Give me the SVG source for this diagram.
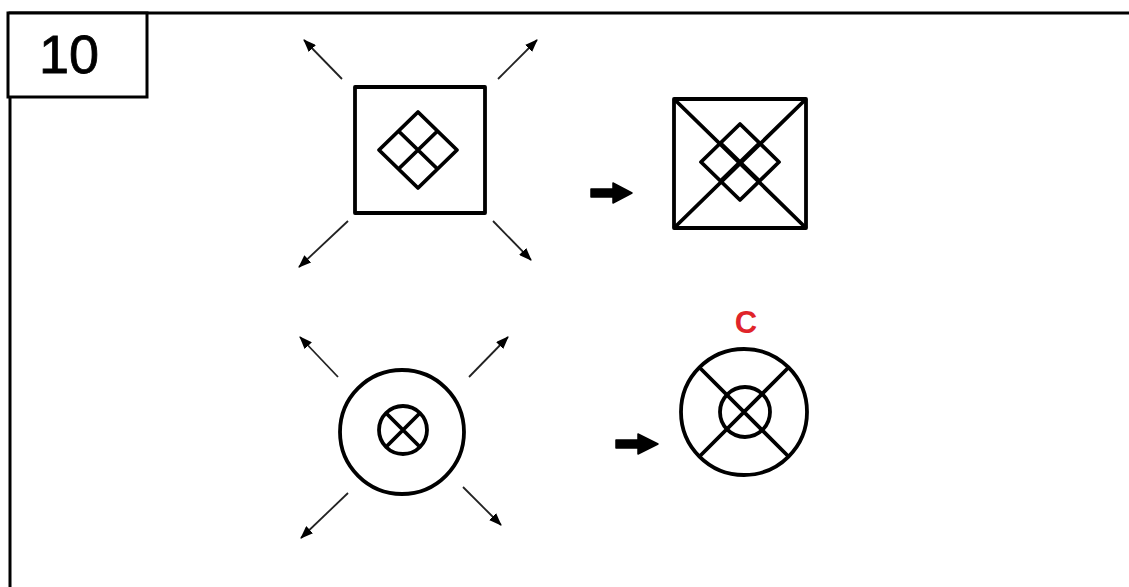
<svg xmlns="http://www.w3.org/2000/svg" width="1129" height="587" viewBox="0 0 1129 587">
<style>
.thick{fill:none;stroke:#000;stroke-width:3.8;stroke-linejoin:round}
.thin{fill:none;stroke:#222;stroke-width:1.8}
.block{fill:#000;stroke:#000;stroke-width:1.5;stroke-linejoin:round}
</style>
<defs>
<marker id="ah" markerWidth="13" markerHeight="10" refX="12" refY="5" orient="auto" markerUnits="userSpaceOnUse">
<path d="M0,0 L13,5 L0,10 Z" fill="#000"/>
</marker>
</defs>
<rect width="1129" height="587" fill="#fff"/>
<g id="frame">
<path d="M10,587 L10,13 L1129,13" fill="none" stroke="#000" stroke-width="3"/>
</g>
<g id="label">
<rect x="8" y="13" width="139" height="84" fill="#fff" stroke="#000" stroke-width="3"/>
<text x="69" y="73" font-family="Liberation Sans, Arial, sans-serif" font-size="54" text-anchor="middle" stroke="#000" stroke-width="0.8">10</text>
</g>
<g id="square1">
<rect x="355" y="87" width="130" height="126" class="thick"/>
<path class="thick" d="M418,112 L457,150 L418,188 L379,150 Z M398.5,131 L437.5,169 M437.5,131 L398.5,169"/>
</g>
<g id="square2">
<rect x="674" y="99" width="132" height="129" class="thick"/>
<path class="thick" d="M674,99 L806,228 M806,99 L674,228"/>
<path class="thick" d="M740,124 L779,162 L740,200 L701,162 Z M720.5,143 L759.5,181 M759.5,143 L720.5,181"/>
</g>
<g id="circle1">
<circle cx="402" cy="432" r="62" class="thick"/>
<circle cx="403" cy="430" r="24" class="thick"/>
<path class="thick" d="M386,413 L420,447 M420,413 L386,447"/>
</g>
<g id="circle2">
<circle cx="744" cy="412" r="63" class="thick"/>
<circle cx="745" cy="412" r="25" class="thick"/>
<path class="thick" d="M700,368 L788,456 M788,368 L700,456"/>
<text x="746" y="333" font-family="Liberation Sans, Arial, sans-serif" font-size="31" font-weight="bold" fill="#e0242a" text-anchor="middle">C</text>
</g>
<g id="connectors">
<line class="thin" x1="342" y1="79" x2="304" y2="40" marker-end="url(#ah)"/>
<line class="thin" x1="498" y1="79" x2="537" y2="40" marker-end="url(#ah)"/>
<line class="thin" x1="348" y1="221" x2="299" y2="267" marker-end="url(#ah)"/>
<line class="thin" x1="493" y1="221" x2="531" y2="260" marker-end="url(#ah)"/>
<line class="thin" x1="338" y1="377" x2="300" y2="337" marker-end="url(#ah)"/>
<line class="thin" x1="469" y1="377" x2="508" y2="337" marker-end="url(#ah)"/>
<line class="thin" x1="348" y1="493" x2="301" y2="538" marker-end="url(#ah)"/>
<line class="thin" x1="463" y1="487" x2="501" y2="525" marker-end="url(#ah)"/>
<path class="block" d="M591,189 L613,189 L613,183 L632,193 L613,203 L613,197 L591,197 Z"/>
<path class="block" d="M616,440 L638,440 L638,434 L658,444 L638,454 L638,448 L616,448 Z"/>
</g>
</svg>
